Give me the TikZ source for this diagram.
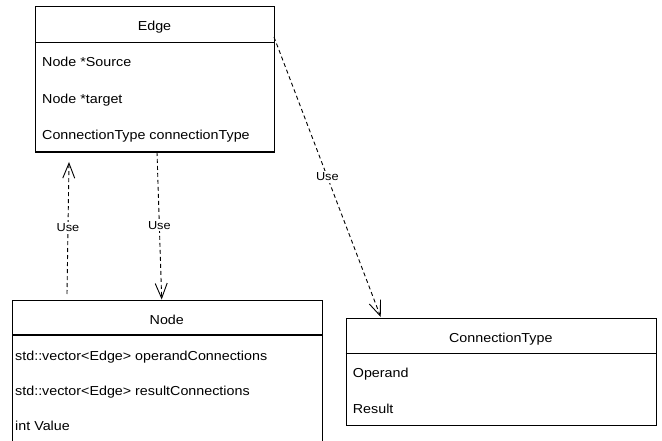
\documentclass[tikz,border=0pt]{standalone}
\usepackage{fontspec}
\setmainfont{Liberation Sans}[FakeStretch=1.1]
\usetikzlibrary{arrows.meta}
\begin{document}
\begin{tikzpicture}[x=1pt,y=-1pt,
  classbox/.style={draw, line width=1.1pt, anchor=north west, inner sep=0pt},
  title/.style={anchor=base, font=\fontsize{13}{15}\selectfont, inner sep=0pt},
  attr/.style={anchor=base west, font=\fontsize{13}{15}\selectfont, inner sep=0pt},
  divider/.style={line width=1.1pt},
  uses/.style={dash pattern=on 4pt off 3pt, line width=0.9pt, -{Straight Barb[length=15pt,width=12pt,line width=0.9pt]}},
  uselabel/.style={fill=white, font=\fontsize{11.6}{13}\selectfont, inner sep=1.5pt}]
\useasboundingbox (0,0) rectangle (662,441);
\clip (0,0) rectangle (662,441);

% Edge class
\node[classbox, minimum width=239pt, minimum height=145.5pt] (edge) at (35,6) {};
\draw[divider] (35,42.5) coordinate (edged1) -- (274,42.5) coordinate (edged2);
\node[title] (edget) at (154.5,31) {Edge};
\node[attr] (edgea1) at (42,67) {Node *Source};
\node[attr] (edgea2) at (42,103.3) {Node *target};
\node[attr] (edgea3) at (42,140) {ConnectionType connectionType};

% Node class
\node[classbox, minimum width=309.7pt, minimum height=160pt] (nodebox) at (12,300) {};
\draw[divider] (12,335) coordinate (noded1) -- (321.7,335) coordinate (noded2);
\node[title] (nodet) at (166.8,324.3) {Node};
\node[attr] (nodea1) at (15,360) {std::vector<Edge> operandConnections};
\node[attr] (nodea2) at (15,395) {std::vector<Edge> resultConnections};
\node[attr] (nodea3) at (15,430) {int Value};

% ConnectionType class
\node[classbox, minimum width=310.3pt, minimum height=107.5pt] (ctype) at (345.7,317.5) {};
\draw[divider] (345.7,353.3) coordinate (ctd1) -- (656,353.3) coordinate (ctd2);
\node[title] (ctypet) at (500.8,342.7) {ConnectionType};
\node[attr] (ctypea1) at (352.7,377.3) {Operand};
\node[attr] (ctypea2) at (352.7,413.3) {Result};

% connector end points
\coordinate (u1s) at (67,294);
\coordinate (u1e) at (69,162);
\coordinate (u2s) at (157,152);
\coordinate (u2e) at (161.7,299.5);
\coordinate (u3s) at (274,37);
\coordinate (u3e) at (380.7,317);

\draw[uses] (u1s) -- node[uselabel] (l1) {Use} (u1e);
\draw[uses] (u2s) -- node[uselabel] (l2) {Use} (u2e);
\draw[uses] (u3s) -- node[uselabel] (l3) {Use} (u3e);
\end{tikzpicture}
\end{document}
